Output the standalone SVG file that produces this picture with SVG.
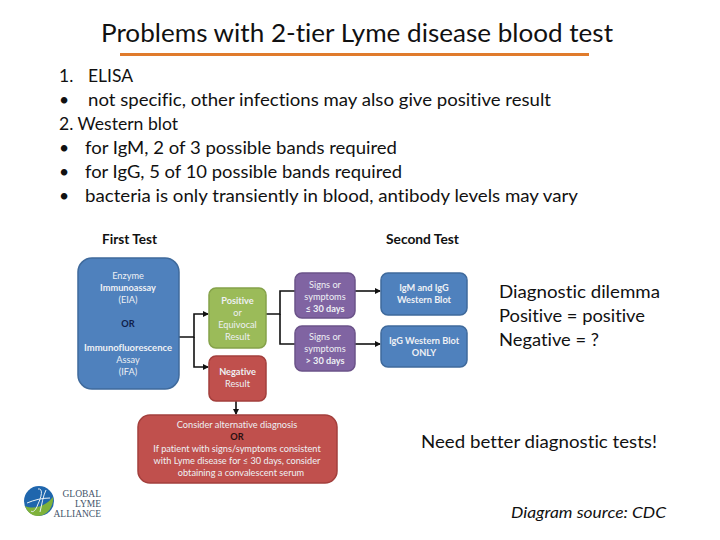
<svg xmlns="http://www.w3.org/2000/svg" width="720" height="540" viewBox="0 0 720 540">
<style>
text{font-family:"Lato","Liberation Sans",sans-serif;fill:#111;font-variant-ligatures:none}
.b{font-size:17.5px}
.h{font-size:13.2px;font-weight:700}
.n{font-size:9.2px;fill:#eef0f4;text-anchor:middle}
.s{font-weight:700}
.d{fill:#10204a;font-weight:700}
.blue{fill:#4f81bd;stroke:#3f6a9c;stroke-width:1.5}
.green{fill:#9bbb59;stroke:#85a24a;stroke-width:1.5}
.red{fill:#c0504d;stroke:#a33f3c;stroke-width:1.5}
.purple{fill:#8064a2;stroke:#6b5389;stroke-width:1.5}
.c{fill:none;stroke:#111;stroke-width:1.6}
.logo{font-family:"Liberation Serif",serif;font-size:9.5px;fill:#44546a;text-anchor:end}
</style>
<defs>
<marker id="a" markerWidth="7" markerHeight="7" refX="5" refY="3" orient="auto" markerUnits="userSpaceOnUse"><path d="M0 0L6 3L0 6Z" fill="#111"/></marker>
</defs>
<rect width="720" height="540" fill="#fff"/>
<text x="101" y="42" font-size="24.5" textLength="512" lengthAdjust="spacingAndGlyphs">Problems with 2-tier Lyme disease blood test</text>
<rect x="120" y="53" width="469" height="3" fill="#e07b2c"/>
<g>
<text class="b" x="59" y="82">1.</text><text class="b" x="88" y="82" textLength="45" lengthAdjust="spacingAndGlyphs">ELISA</text>
<text class="b" x="59" y="106">•</text><text class="b" x="88" y="106" textLength="463" lengthAdjust="spacingAndGlyphs">not specific, other infections may also give positive result</text>
<text class="b" x="59" y="130" textLength="119" lengthAdjust="spacingAndGlyphs">2. Western blot</text>
<text class="b" x="59" y="154">•</text><text class="b" x="85" y="154" textLength="312" lengthAdjust="spacingAndGlyphs">for IgM, 2 of 3 possible bands required</text>
<text class="b" x="59" y="178">•</text><text class="b" x="85" y="178" textLength="317" lengthAdjust="spacingAndGlyphs">for IgG, 5 of 10 possible bands required</text>
<text class="b" x="59" y="202">•</text><text class="b" x="85" y="202" textLength="493" lengthAdjust="spacingAndGlyphs">bacteria is only transiently in blood, antibody levels may vary</text>
</g>
<text class="h" x="102" y="244" textLength="55" lengthAdjust="spacingAndGlyphs">First Test</text>
<text class="h" x="386" y="244" textLength="73" lengthAdjust="spacingAndGlyphs">Second Test</text>
<g id="connectors">
<path class="c" d="M179 337H194V314H208" marker-end="url(#a)"/>
<path class="c" d="M194 337V367H208" marker-end="url(#a)"/>
<path class="c" d="M266 314H280V291H295"/>
<path class="c" d="M280 314V344H295"/>
<path class="c" d="M355 291H380" marker-end="url(#a)"/>
<path class="c" d="M355 344H380" marker-end="url(#a)"/>
<path class="c" d="M236 401V414" marker-end="url(#a)"/>
</g>
<g id="first-test"><rect class="blue" x="78" y="258" width="101" height="131" rx="14"/>
<text class="n" x="128" y="279">Enzyme</text><text class="n s" x="128" y="291">Immunoassay</text><text class="n" x="128" y="303">(EIA)</text>
<text class="n d" x="128" y="327">OR</text>
<text class="n s" x="128" y="351" textLength="88" lengthAdjust="spacingAndGlyphs">Immunofluorescence</text><text class="n" x="128" y="363">Assay</text><text class="n" x="128" y="375">(IFA)</text></g>
<g id="positive"><rect class="green" x="209" y="288" width="57" height="60" rx="7"/>
<text class="n s" x="237.500" y="304">Positive</text><text class="n" x="237.500" y="316">or</text><text class="n" x="237.500" y="328">Equivocal</text><text class="n" x="237.500" y="340">Result</text></g>
<g id="negative"><rect class="red" x="209" y="356" width="57" height="45" rx="7"/>
<text class="n s" x="237.500" y="375">Negative</text><text class="n" x="237.500" y="387">Result</text></g>
<g id="signs-early"><rect class="purple" x="295" y="273" width="60" height="45" rx="7"/>
<text class="n" x="325" y="288">Signs or</text><text class="n" x="325" y="300">symptoms</text><text class="n s" x="325" y="312">≤ 30 days</text></g>
<g id="signs-late"><rect class="purple" x="295" y="326" width="60" height="45" rx="7"/>
<text class="n" x="325" y="340">Signs or</text><text class="n" x="325" y="352">symptoms</text><text class="n s" x="325" y="364">&gt; 30 days</text></g>
<g id="igm-igg"><rect class="blue" x="381" y="273" width="86" height="42" rx="7"/>
<text class="n s" x="424" y="291">IgM  and IgG</text><text class="n s" x="424" y="303">Western Blot</text></g>
<g id="igg-only"><rect class="blue" x="381" y="326" width="86" height="41" rx="7"/>
<text class="n s" x="424" y="344">IgG Western Blot</text><text class="n s" x="424" y="356">ONLY</text></g>
<g id="alternative"><rect class="red" x="138" y="415" width="199" height="68" rx="12"/>
<text class="n" x="237" y="428">Consider alternative diagnosis</text><text class="n s" x="237" y="440" style="fill:#2a1010">OR</text>
<text class="n" x="237" y="452">If patient with signs/symptoms consistent</text><text class="n" x="237" y="464">with Lyme disease for ≤ 30 days, consider</text><text class="n" x="241" y="476">obtaining a convalescent serum</text></g>
<text class="b" x="499" y="298" textLength="161" lengthAdjust="spacingAndGlyphs">Diagnostic dilemma</text>
<text class="b" x="499" y="322" textLength="146" lengthAdjust="spacingAndGlyphs">Positive = positive</text>
<text class="b" x="499" y="346" textLength="100" lengthAdjust="spacingAndGlyphs">Negative = ?</text>
<text class="b" x="421" y="448" textLength="236" lengthAdjust="spacingAndGlyphs">Need better diagnostic tests!</text>
<text x="511" y="518" font-size="15" font-style="italic" textLength="155" lengthAdjust="spacingAndGlyphs">Diagram source: CDC</text>
<g id="logo">
<circle cx="39" cy="501" r="15" fill="#1f66ad"/>
<path d="M25 506C34 510 46 506 53 497C54 508 46 516 38 516C32 516 27 512 25 506Z" fill="#7fb23a"/>
<path d="M27 503C34 500 42 498 50 498M38 489C44 488 41 498 38 504C36 510 33 513 31 511M46 490C43 496 42 504 40 512" fill="none" stroke="#eaf2f7" stroke-width="1"/>
<text class="logo" x="101" y="497">GLOBAL</text><text class="logo" x="101" y="507">LYME</text><text class="logo" x="101" y="517">ALLIANCE</text>
</g>
</svg>
